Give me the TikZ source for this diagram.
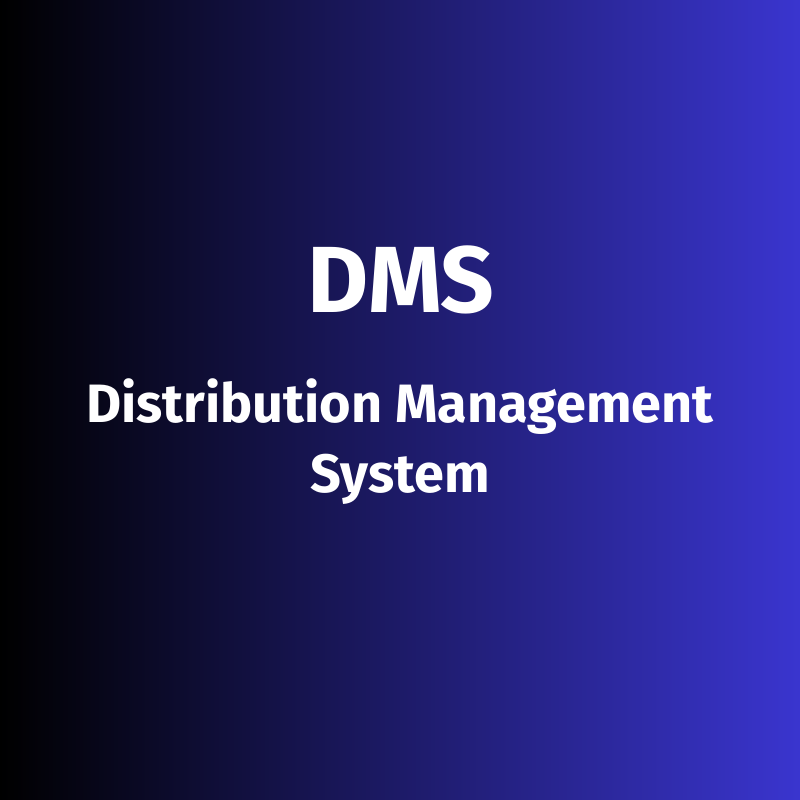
\documentclass[tikz,border=0pt]{standalone}
\usepackage{fontspec}
\setmainfont{Fira Sans}
\definecolor{leftc}{HTML}{000000}
\definecolor{rightc}{HTML}{3A35CF}
\begin{document}
\begin{tikzpicture}[x=1pt,y=1pt,
  title/.style={text=white,font=\fontsize{94}{94}\selectfont\bfseries,anchor=base,inner sep=0pt},
  sub/.style={text=white,font=\fontsize{54}{54}\selectfont\bfseries,anchor=base,inner sep=0pt}]
\useasboundingbox (0,0) rectangle (800,800);
\shade[left color=leftc,right color=rightc] (0,0) rectangle (800,800);
\node[title] (dms) at (401,487) {DMS};
\node[sub] (l1) at (400,377) {Distribution Management};
\node[sub] (l2) at (400,307) {System};
\end{tikzpicture}
\end{document}
